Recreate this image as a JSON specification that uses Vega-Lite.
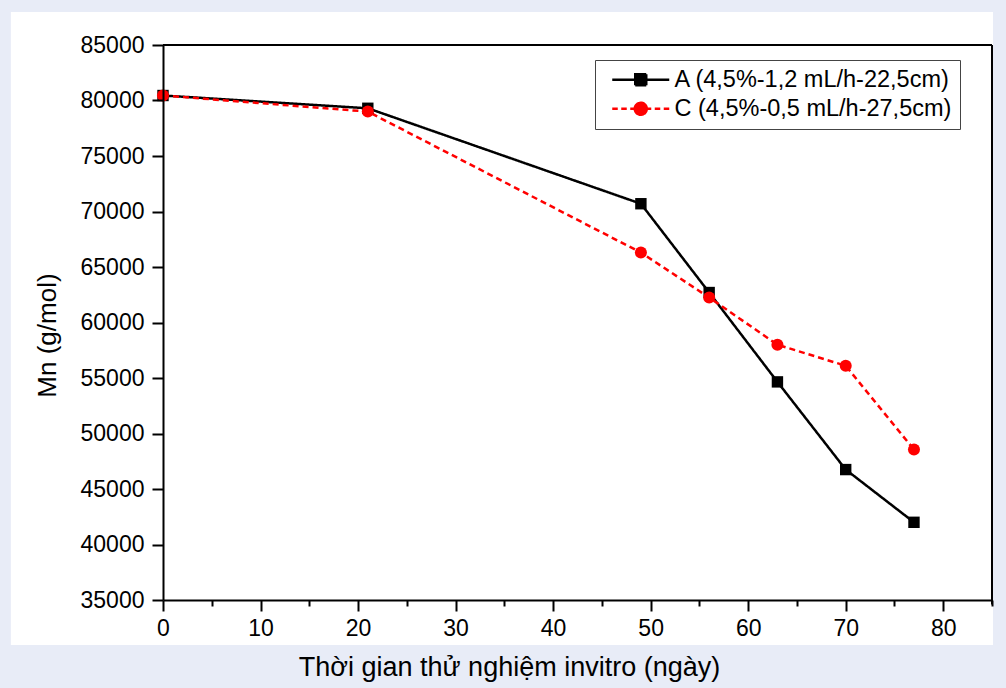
{
  "$schema": "https://vega.github.io/schema/vega-lite/v6.json",
  "width": 829,
  "height": 555,
  "autosize": {"type": "none"},
  "padding": {"left": 163, "top": 45, "right": 14, "bottom": 88},
  "background": "#e8ecf7",
  "view": {"stroke": null},
  "config": {
    "font": "Liberation Sans"
  },
  "data": {
    "values": [
      {"t": 0, "mn": 80450, "s": "A (4,5%-1,2 mL/h-22,5cm)"},
      {"t": 21, "mn": 79300, "s": "A (4,5%-1,2 mL/h-22,5cm)"},
      {"t": 49, "mn": 70700, "s": "A (4,5%-1,2 mL/h-22,5cm)"},
      {"t": 56, "mn": 62700, "s": "A (4,5%-1,2 mL/h-22,5cm)"},
      {"t": 63, "mn": 54650, "s": "A (4,5%-1,2 mL/h-22,5cm)"},
      {"t": 70, "mn": 46750, "s": "A (4,5%-1,2 mL/h-22,5cm)"},
      {"t": 77, "mn": 42000, "s": "A (4,5%-1,2 mL/h-22,5cm)"},
      {"t": 0, "mn": 80450, "s": "C (4,5%-0,5 mL/h-27,5cm)"},
      {"t": 21, "mn": 79000, "s": "C (4,5%-0,5 mL/h-27,5cm)"},
      {"t": 49, "mn": 66300, "s": "C (4,5%-0,5 mL/h-27,5cm)"},
      {"t": 56, "mn": 62250, "s": "C (4,5%-0,5 mL/h-27,5cm)"},
      {"t": 63, "mn": 58000, "s": "C (4,5%-0,5 mL/h-27,5cm)"},
      {"t": 70, "mn": 56100, "s": "C (4,5%-0,5 mL/h-27,5cm)"},
      {"t": 77, "mn": 48550, "s": "C (4,5%-0,5 mL/h-27,5cm)"}
    ]
  },
  "layer": [
    {
      "data": {"values": [{}]},
      "mark": {"type": "rect", "fill": "white", "stroke": null, "clip": false},
      "encoding": {
        "x": {"datum": -15.6, "type": "quantitative", "scale": {"domain": [0, 85], "nice": false, "zero": false}},
        "x2": {"datum": 85.1},
        "y": {"datum": 87970, "type": "quantitative", "scale": {"domain": [35000, 85000], "nice": false, "zero": false}},
        "y2": {"datum": 30950}
      }
    },
    {
      "data": {"values": [{}]},
      "mark": {"type": "rule", "color": "black", "strokeWidth": 2},
      "encoding": {
        "x": {"datum": 0, "type": "quantitative"},
        "x2": {"datum": 85},
        "y": {"datum": 85000, "type": "quantitative"}
      }
    },
    {
      "data": {"values": [{}]},
      "mark": {"type": "rule", "color": "black", "strokeWidth": 2},
      "encoding": {
        "x": {"datum": 85, "type": "quantitative"},
        "y": {"datum": 34600, "type": "quantitative"},
        "y2": {"datum": 85000}
      }
    },
    {
      "mark": {"type": "line", "strokeWidth": 2.5},
      "encoding": {
        "x": {
          "field": "t", "type": "quantitative",
          "axis": {
            "zindex": 1,
            "title": "Thời gian thử nghiệm invitro (ngày)",
            "values": [0, 5, 10, 15, 20, 25, 30, 35, 40, 45, 50, 55, 60, 65, 70, 75, 80, 85],
            "labelExpr": "datum.value % 10 === 0 ? datum.label : ''",
            "format": "d",
            "labelFlush": false, "labelOverlap": false,
            "domainColor": "black", "domainWidth": 2,
            "tickColor": "black", "tickWidth": 2,
            "tickSize": {"condition": {"test": "datum.value % 10 !== 0", "value": 6}, "value": 11},
            "labelFontSize": 23, "labelColor": "black", "labelPadding": 6,
            "titleFontSize": 27, "titleFontWeight": "normal", "titleColor": "black",
            "titleX": 346, "titleY": 75, "titleBaseline": "alphabetic", "titleAnchor": null,
            "grid": false
          }
        },
        "y": {
          "field": "mn", "type": "quantitative",
          "axis": {
            "zindex": 1,
            "title": "Mn (g/mol)",
            "values": [35000, 37500, 40000, 42500, 45000, 47500, 50000, 52500, 55000, 57500, 60000, 62500, 65000, 67500, 70000, 72500, 75000, 77500, 80000, 82500, 85000],
            "labelExpr": "datum.value % 5000 === 0 ? datum.label : ''",
            "format": "d",
            "labelFlush": false, "labelOverlap": false,
            "domainColor": "black", "domainWidth": 2,
            "tickColor": "black", "tickWidth": 2,
            "tickSize": {"condition": {"test": "datum.value % 5000 !== 0", "value": 6}, "value": 11},
            "labelFontSize": 23, "labelColor": "black", "labelPadding": 8,
            "titleFontSize": 26, "titleFontWeight": "normal", "titleColor": "black",
            "titleX": -108, "titleY": 290, "titleBaseline": "alphabetic", "titleAngle": -90, "titleAnchor": null,
            "grid": false
          }
        },
        "color": {
          "field": "s", "type": "nominal",
          "scale": {"domain": ["A (4,5%-1,2 mL/h-22,5cm)", "C (4,5%-0,5 mL/h-27,5cm)"], "range": ["black", "#ff0000"]},
          "legend": {
            "orient": "none", "legendX": 432, "legendY": 15,
            "title": null, "padding": 8,
            "strokeColor": "#444444", "fillColor": "white",
            "labelFontSize": 23.5, "labelColor": "black", "labelLimit": 0,
            "symbolSize": 400, "symbolOffset": 26, "labelOffset": 22, "rowPadding": 4,
            "symbolStrokeWidth": 2.5,
            "encode": {
              "symbols": {
                "update": {
                  "shape": [
                    {"test": "datum.value === 'A (4,5%-1,2 mL/h-22,5cm)'", "value": "M-2.85,0L2.85,0M-0.55,-0.55L0.55,-0.55L0.55,0.55L-0.55,0.55Z"},
                    {"value": "M-2.85,0L-2.3,0M-1.95,0L-1.4,0M-1.05,0L-0.6,0M0.6,0L1.05,0M1.4,0L1.95,0M2.3,0L2.85,0M0.6,0A0.6,0.6,0,1,1,-0.6,0A0.6,0.6,0,1,1,0.6,0Z"}
                  ],
                  "fill": {"scale": "color", "field": "value"},
                  "stroke": {"scale": "color", "field": "value"},
                  "strokeDash": {"value": [1, 0]},
                  "opacity": {"value": 1}
                }
              }
            }
          }
        },
        "strokeDash": {
          "condition": {"test": "datum.s === 'A (4,5%-1,2 mL/h-22,5cm)'", "value": [1, 0]},
          "value": [6, 4]
        }
      }
    },
    {
      "mark": {"type": "point", "filled": true, "opacity": 1},
      "encoding": {
        "x": {"field": "t", "type": "quantitative"},
        "y": {"field": "mn", "type": "quantitative"},
        "color": {"field": "s", "type": "nominal"},
        "shape": {
          "condition": {"test": "datum.s === 'A (4,5%-1,2 mL/h-22,5cm)'", "value": "square"},
          "value": "circle"
        },
        "size": {
          "condition": {"test": "datum.s === 'A (4,5%-1,2 mL/h-22,5cm)'", "value": 130},
          "value": 145
        }
      }
    }
  ]
}
